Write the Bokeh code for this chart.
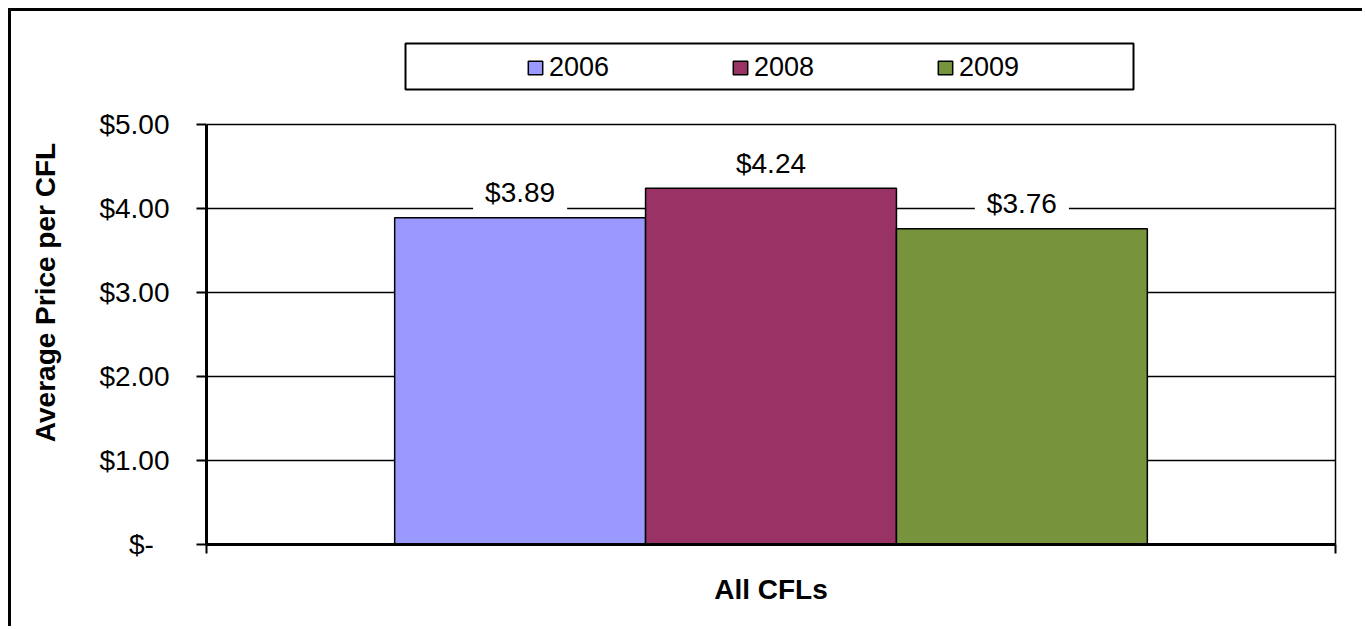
from bokeh.plotting import figure
from bokeh.models import (ColumnDataSource, Range1d, FixedTicker, Legend, LegendItem,
                          LinearAxis, BoxAnnotation)
from bokeh.embed import file_html
from bokeh.resources import INLINE

# Average CFL price by survey year
categories = ["All CFLs"]
years = ["2006", "2008", "2009"]
prices = [3.89, 4.24, 3.76]
price_labels = ["$3.89", "$4.24", "$3.76"]
bar_colors = ["#9999FF", "#993366", "#77933C"]
y_ticks = [0, 1, 2, 3, 4, 5]
y_tick_labels = ["$-", "$1.00", "$2.00", "$3.00", "$4.00", "$5.00"]

FONT = "Liberation Sans"
Y_MAX = y_ticks[-1]

# one category spanning [0, 1]; the three year bars fill its middle two thirds
group_width = 2 / 3
bar_w = group_width / len(years)
xs = [0.5 + (i - (len(years) - 1) / 2) * bar_w for i in range(len(years))]

src = ColumnDataSource(dict(x=xs, price=prices, year=years, color=bar_colors,
                            label=price_labels))

# the frame reaches one unit above the value axis so the legend fits inside it
p = figure(width=1354, height=618, output_backend="svg", toolbar_location=None,
           x_range=Range1d(0, 1), y_range=Range1d(0, Y_MAX + 1),
           min_border_left=195, min_border_right=30, min_border_top=29,
           min_border_bottom=85)
# the chart sits inside a thin black frame
p.styles = {"margin-left": "8px", "margin-top": "8px",
            "border-left": "3px solid black", "border-top": "3px solid black"}
p.background_fill_color = "white"
p.border_fill_color = "white"
p.outline_line_color = None

# horizontal gridlines (the top one closes the plot area)
p.xgrid.visible = False
p.ygrid.grid_line_color = "black"
p.ygrid.grid_line_width = 1.5
p.ygrid.ticker = FixedTicker(ticks=y_ticks)

bars = p.vbar(x="x", top="price", width=bar_w, bottom=0, source=src,
              fill_color="color", line_color="black", line_width=1.5)

# value labels on a white box that interrupts the gridline
p.text(x="x", y="price", text="label", source=src, y_offset=-25,
       text_align="center", text_baseline="middle", text_font_size="28px",
       text_font={"value": FONT}, text_color="black",
       background_fill_color="white", padding=(12, 5))

# y axis
ya = p.yaxis[0]
ya.bounds = (0, Y_MAX)
ya.ticker = FixedTicker(ticks=y_ticks)
ya.major_label_overrides = {t: (lab if lab != "$-" else lab + "\u00a0\u00a0")
                            for t, lab in zip(y_ticks, y_tick_labels)}
ya.axis_line_width = 3
ya.major_tick_line_width = 2
ya.major_tick_out = 10
ya.major_tick_in = 0
ya.minor_tick_line_color = None
ya.major_label_standoff = 27
ya.major_label_text_font = FONT
ya.major_label_text_font_size = "28px"
ya.major_label_text_color = "black"
ya.axis_label = "Average Price per CFL"
ya.axis_label_text_font = FONT
ya.axis_label_text_font_size = "28px"
ya.axis_label_text_font_style = "bold"
ya.axis_label_text_color = "black"
ya.axis_label_standoff = 35

# plain right-hand edge of the plot area
ra = LinearAxis(bounds=(0, Y_MAX), ticker=FixedTicker(ticks=[]),
                axis_line_width=1.5, axis_line_color="black",
                major_tick_line_color=None, minor_tick_line_color=None)
p.add_layout(ra, "right")

# x axis: ticks at the category edges, category name as the axis label
xa = p.xaxis[0]
xa.ticker = FixedTicker(ticks=[0, 1])
xa.major_label_overrides = {0: "", 1: ""}
xa.major_label_text_font_size = "1px"
xa.major_label_standoff = 0
xa.axis_line_width = 3
xa.major_tick_line_width = 2
xa.major_tick_out = 9
xa.major_tick_in = 0
xa.minor_tick_line_color = None
xa.axis_label = categories[0]
xa.axis_label_text_font = FONT
xa.axis_label_text_font_size = "28px"
xa.axis_label_text_font_style = "bold"
xa.axis_label_text_color = "black"
xa.axis_label_standoff = 20

# legend: outlined box with the three year entries spread across it
p.add_layout(BoxAnnotation(left=199, right=927, top=501, bottom=455,
                           left_units="screen", right_units="screen",
                           top_units="screen", bottom_units="screen",
                           fill_color="white", fill_alpha=1.0,
                           line_color="black", line_alpha=1.0, line_width=2))
legend = Legend(items=[LegendItem(label=years[i], renderers=[bars], index=i)
                       for i in range(len(years))],
                orientation="horizontal", location=(320, 461),
                padding=0, margin=0, spacing=121, glyph_width=18, glyph_height=17,
                label_standoff=5, label_width=61,
                label_text_font=FONT, label_text_font_size="27px",
                label_text_color="black",
                border_line_color=None, background_fill_alpha=0)
p.add_layout(legend, "center")

open("out.html", "w").write(file_html(p, INLINE))
